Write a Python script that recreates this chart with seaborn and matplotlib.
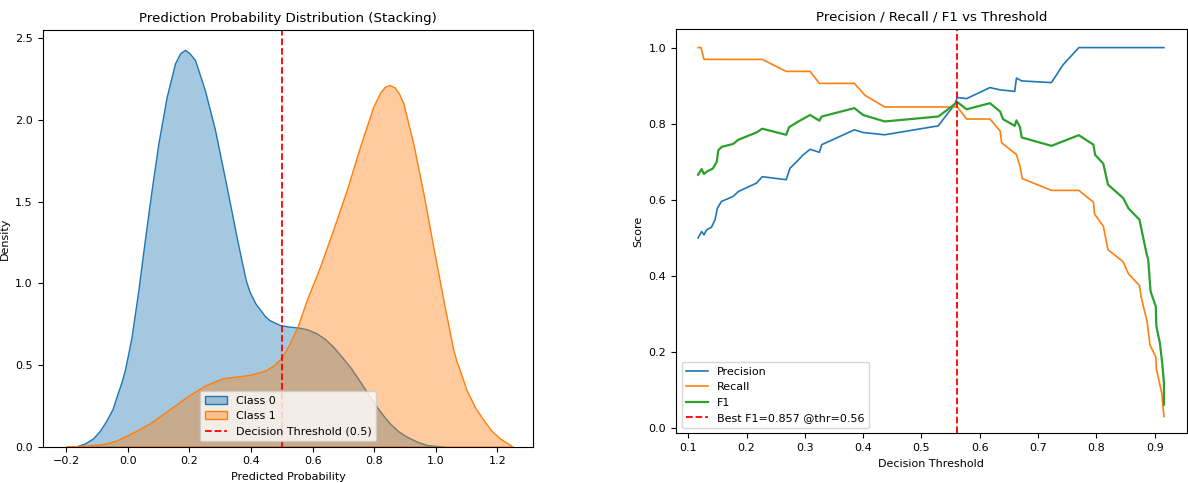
import numpy as np
import pandas as pd
import seaborn as sns
import matplotlib.pyplot as plt
from matplotlib.colors import to_rgba

# density curves
kde_x0 = [-0.17, -0.14, -0.113, -0.09, -0.069, -0.05, -0.037, -0.02, -0.01, 0.0, 0.012, 0.034,
          0.055, 0.077, 0.099, 0.126, 0.153, 0.17, 0.185, 0.2, 0.218, 0.25, 0.283, 0.321,
          0.353, 0.368, 0.383, 0.395, 0.415, 0.429, 0.445, 0.46, 0.494, 0.525, 0.553, 0.58,
          0.613, 0.64, 0.667, 0.695, 0.721, 0.743, 0.765, 0.787, 0.808, 0.83, 0.851, 0.878,
          0.906, 0.94, 0.971, 1.03]
kde_y0 = [0.0, 0.02, 0.051, 0.1, 0.163, 0.23, 0.306, 0.40, 0.47, 0.56, 0.674, 0.96,
          1.266, 1.572, 1.858, 2.143, 2.348, 2.41, 2.43, 2.41, 2.368, 2.184, 1.94, 1.59,
          1.286, 1.15, 1.02, 0.95, 0.875, 0.84, 0.80, 0.775, 0.745, 0.735, 0.73, 0.72,
          0.694, 0.66, 0.612, 0.55, 0.49, 0.43, 0.368, 0.305, 0.245, 0.19, 0.143, 0.095,
          0.061, 0.03, 0.01, 0.0]

kde_x1 = [-0.2, -0.15, -0.1, -0.069, -0.035, 0.0, 0.035, 0.071, 0.11, 0.147, 0.2, 0.254,
          0.308, 0.364, 0.396, 0.425, 0.45, 0.475, 0.494, 0.51, 0.526, 0.55, 0.581, 0.624,
          0.667, 0.711, 0.754, 0.797, 0.82, 0.835, 0.851, 0.867, 0.88, 0.895, 0.927, 0.96,
          0.992, 1.025, 1.041, 1.057, 1.068, 1.08, 1.1, 1.128, 1.155, 1.18, 1.209, 1.23, 1.25]
kde_y1 = [0.0, 0.005, 0.012, 0.02, 0.04, 0.072, 0.105, 0.143, 0.195, 0.245, 0.317, 0.378,
          0.419, 0.432, 0.44, 0.455, 0.47, 0.5, 0.535, 0.58, 0.634, 0.73, 0.898, 1.102,
          1.33, 1.572, 1.837, 2.082, 2.17, 2.205, 2.215, 2.2, 2.165, 2.103, 1.858, 1.552,
          1.225, 0.898, 0.745, 0.593, 0.52, 0.46, 0.348, 0.24, 0.164, 0.1, 0.05, 0.025, 0.0]

# precision / recall / f1 curves vs threshold
prec_thr = [0.117, 0.123, 0.127, 0.1315, 0.14, 0.146, 0.15, 0.157, 0.177, 0.186, 0.217, 0.227,
            0.268, 0.2745, 0.289, 0.297, 0.309, 0.325, 0.329, 0.385, 0.40, 0.437, 0.529, 0.543,
            0.557, 0.5615, 0.5775, 0.6175, 0.635, 0.660, 0.663, 0.672, 0.723, 0.743, 0.770, 0.916]
precision = [0.50, 0.517, 0.508, 0.521, 0.5285, 0.548, 0.578, 0.596, 0.609, 0.622, 0.644, 0.661,
             0.653, 0.683, 0.705, 0.718, 0.733, 0.725, 0.745, 0.784, 0.777, 0.771, 0.7945, 0.823,
             0.85, 0.869, 0.866, 0.895, 0.889, 0.885, 0.92, 0.9125, 0.908, 0.955, 1.0, 1.0]

rec_thr = [0.117, 0.122, 0.127, 0.227, 0.268, 0.309, 0.325, 0.385, 0.403, 0.437, 0.5615, 0.5775,
           0.6175, 0.635, 0.6375, 0.663, 0.669, 0.673, 0.723, 0.770, 0.795, 0.797, 0.812, 0.820,
           0.846, 0.855, 0.874, 0.877, 0.887, 0.892, 0.902, 0.903, 0.912, 0.916]
recall = [1.0, 1.0, 0.969, 0.969, 0.9375, 0.9375, 0.906, 0.906, 0.875, 0.844, 0.844, 0.8125,
          0.8125, 0.781, 0.75, 0.719, 0.688, 0.656, 0.625, 0.625, 0.594, 0.5625, 0.531, 0.469,
          0.4375, 0.406, 0.375, 0.344, 0.281, 0.219, 0.1875, 0.156, 0.094, 0.031]

f1_thr = [0.117, 0.123, 0.127, 0.1325, 0.142, 0.149, 0.1515, 0.157, 0.177, 0.186, 0.217, 0.227,
          0.268, 0.273, 0.289, 0.309, 0.325, 0.329, 0.385, 0.40, 0.437, 0.529, 0.543, 0.5615,
          0.5775, 0.6175, 0.635, 0.640, 0.660, 0.663, 0.669, 0.672, 0.723, 0.770, 0.795, 0.798,
          0.812, 0.820, 0.846, 0.855, 0.874, 0.886, 0.889, 0.893, 0.902, 0.903, 0.909, 0.913,
          0.916, 0.916]
f1 = [0.666, 0.681, 0.668, 0.675, 0.682, 0.70, 0.73, 0.739, 0.747, 0.758, 0.777, 0.787,
      0.771, 0.791, 0.806, 0.823, 0.808, 0.819, 0.841, 0.823, 0.806, 0.819, 0.835, 0.857,
      0.838, 0.854, 0.832, 0.812, 0.7945, 0.809, 0.791, 0.764, 0.742, 0.770, 0.745, 0.718,
      0.695, 0.640, 0.605, 0.578, 0.548, 0.46, 0.443, 0.36, 0.32, 0.268, 0.224, 0.172,
      0.119, 0.062]

decision_thr = 0.5
best_thr = 0.5615
best_f1 = 0.857

plt.rcParams['font.family'] = ['DejaVu Sans']
plt.rcParams['font.size'] = 8
plt.rcParams['axes.titlesize'] = 9.6

fig = plt.figure(figsize=(11.88, 4.83), dpi=100)
ax1 = fig.add_axes([0.0359, 0.0752, 0.413, 0.8627])
ax2 = fig.add_axes([0.569, 0.1029, 0.4299, 0.8364])

# left: predicted probability distribution
for xs, ys, c, name in [(kde_x0, kde_y0, 'tab:blue', 'Class 0'),
                        (kde_x1, kde_y1, 'tab:orange', 'Class 1')]:
    ax1.fill_between(xs, ys, facecolor=to_rgba(c, 0.4), edgecolor=c, linewidth=1.0, label=name)
ax1.axvline(decision_thr, color='red', linestyle='--', linewidth=1.3,
            label=f'Decision Threshold ({decision_thr})')
ax1.set_xlim(-0.277, 1.317)
ax1.set_ylim(0, 2.552)
ax1.set_title('Prediction Probability Distribution (Stacking)')
ax1.set_xlabel('Predicted Probability')
ax1.set_ylabel('Density')
ax1.legend(loc='lower center')

# right: precision / recall / f1
sns.lineplot(x=prec_thr, y=precision, ax=ax2, label='Precision', color='tab:blue',
             estimator=None, sort=False, linewidth=1.2)
sns.lineplot(x=rec_thr, y=recall, ax=ax2, label='Recall', color='tab:orange',
             estimator=None, sort=False, linewidth=1.2)
sns.lineplot(x=f1_thr, y=f1, ax=ax2, label='F1', color='tab:green',
             estimator=None, sort=False, linewidth=1.6)
ax2.axvline(best_thr, color='red', linestyle='--', linewidth=1.3,
            label=f'Best F1={best_f1:.3f} @thr={best_thr:.2f}')
ax2.set_xlim(0.079, 0.955)
ax2.set_ylim(-0.013, 1.048)
ax2.set_title('Precision / Recall / F1 vs Threshold')
ax2.set_xlabel('Decision Threshold')
ax2.set_ylabel('Score')
ax2.legend(loc='lower left')

fig.savefig('out.png', dpi=100)
